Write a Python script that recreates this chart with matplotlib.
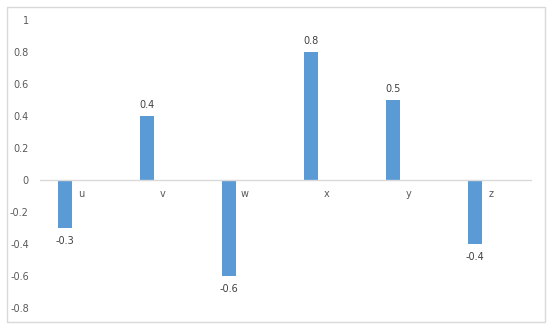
import matplotlib.pyplot as plt
from matplotlib.patches import Rectangle
from matplotlib.ticker import FuncFormatter
import numpy as np

# datos
categorias = ["u", "v", "w", "x", "y", "z"]
valores = [-0.3, 0.4, -0.6, 0.8, 0.5, -0.4]
ticks_y = [-0.8, -0.6, -0.4, -0.2, 0, 0.2, 0.4, 0.6, 0.8, 1]

fig = plt.figure(figsize=(5.5, 3.26), dpi=100)
ax = fig.add_axes([40 / 550, 1 - 308 / 326, 492 / 550, 288 / 326])

# borde exterior del grafico
fig.patches.append(Rectangle((7 / 550, 1 - 322 / 326), 538 / 550, 315 / 326,
                             transform=fig.transFigure, fill=False,
                             edgecolor="#d9d9d9", linewidth=1))

x = np.arange(len(categorias))
ax.bar(x - 0.2, valores, width=0.17, color="#5b9bd5")

for xi, v, c in zip(x, valores, categorias):
    if v >= 0:
        ax.text(xi - 0.2, v + 0.04, f"{v:g}", ha="center", va="bottom",
                fontsize=7, color="#404040")
    else:
        ax.text(xi - 0.2, v - 0.05, f"{v:g}", ha="center", va="top",
                fontsize=7, color="#404040")
    ax.text(xi, -0.09, c, ha="center", va="center", fontsize=7, color="#595959")

ax.axhline(0, color="#d9d9d9", linewidth=1)
ax.set_xlim(-0.5, len(categorias) - 0.5)
ax.set_ylim(-0.8, 1)
ax.set_yticks(ticks_y)
ax.yaxis.set_major_formatter(FuncFormatter(lambda v, p: f"{v:g}"))
ax.set_xticks([])
ax.tick_params(axis="y", length=0, labelsize=7, labelcolor="#595959", pad=8)
for s in ax.spines.values():
    s.set_visible(False)

fig.savefig("out.png", dpi=100)
